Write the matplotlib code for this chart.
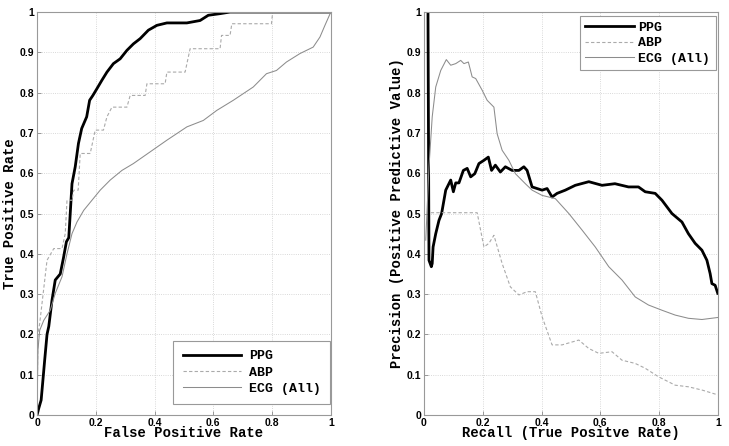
import numpy as np
import matplotlib
matplotlib.use("Agg")
import matplotlib.pyplot as plt

# ROC-Kurven (links)
roc_ppg_fpr = [0, 0.006, 0.014, 0.019, 0.026, 0.034, 0.04, 0.051, 0.062, 0.079, 0.09, 0.1, 0.108,
               0.113, 0.119, 0.13, 0.141, 0.152, 0.169, 0.179, 0.19, 0.204, 0.221, 0.238, 0.26,
               0.283, 0.306, 0.328, 0.351, 0.379, 0.408, 0.442, 0.51, 0.555, 0.583, 0.623, 0.657, 1.0]
roc_ppg_tpr = [0, 0.017, 0.037, 0.078, 0.136, 0.2, 0.22, 0.285, 0.335, 0.35, 0.39, 0.43, 0.44,
               0.5, 0.574, 0.616, 0.674, 0.711, 0.74, 0.781, 0.793, 0.81, 0.831, 0.851, 0.872,
               0.884, 0.905, 0.921, 0.934, 0.955, 0.967, 0.973, 0.973, 0.979, 0.992, 0.996, 1.0, 1.0]

roc_abp_fpr = [0, 0.003, 0.009, 0.034, 0.057, 0.085, 0.096, 0.102, 0.119, 0.125, 0.14, 0.147,
               0.181, 0.198, 0.226, 0.238, 0.255, 0.306, 0.317, 0.368, 0.374, 0.436, 0.442,
               0.504, 0.521, 0.623, 0.628, 0.657, 0.663, 0.798, 0.802, 1.0]
roc_abp_tpr = [0, 0.2, 0.227, 0.384, 0.413, 0.413, 0.45, 0.533, 0.533, 0.558, 0.558, 0.649,
               0.649, 0.707, 0.707, 0.74, 0.764, 0.764, 0.793, 0.793, 0.822, 0.822, 0.851,
               0.851, 0.909, 0.909, 0.942, 0.942, 0.971, 0.971, 1.0, 1.0]

roc_ecg_fpr = [0, 0.003, 0.009, 0.023, 0.045, 0.062, 0.085, 0.102, 0.119, 0.136, 0.159, 0.187,
               0.215, 0.249, 0.289, 0.328, 0.385, 0.442, 0.51, 0.566, 0.612, 0.668, 0.736,
               0.781, 0.815, 0.849, 0.895, 0.94, 0.963, 0.98, 1.0]
roc_ecg_tpr = [0, 0.16, 0.21, 0.235, 0.26, 0.302, 0.343, 0.4, 0.45, 0.479, 0.508, 0.533,
               0.558, 0.583, 0.607, 0.624, 0.653, 0.682, 0.715, 0.731, 0.756, 0.781, 0.814,
               0.847, 0.855, 0.876, 0.897, 0.913, 0.938, 0.967, 1.0]

# Precision-Recall (rechts)
pr_ppg_rec = [0.0136, 0.017, 0.025, 0.028, 0.031, 0.04, 0.051, 0.06, 0.074, 0.091, 0.1, 0.108,
              0.119, 0.134, 0.147, 0.159, 0.173, 0.187, 0.204, 0.219, 0.23, 0.243, 0.26, 0.277,
              0.3, 0.323, 0.34, 0.351, 0.368, 0.385, 0.402, 0.419, 0.436, 0.453, 0.481, 0.515,
              0.561, 0.606, 0.65, 0.696, 0.73, 0.753, 0.787, 0.81, 0.844, 0.878, 0.9, 0.923,
              0.946, 0.963, 0.974, 0.98, 0.991, 1.0]
pr_ppg_prec = [1.0, 0.384, 0.368, 0.376, 0.417, 0.45, 0.483, 0.5, 0.558, 0.583, 0.554, 0.576,
               0.576, 0.607, 0.612, 0.591, 0.599, 0.624, 0.632, 0.64, 0.607, 0.62, 0.603, 0.616,
               0.607, 0.607, 0.616, 0.607, 0.566, 0.562, 0.558, 0.562, 0.541, 0.55, 0.558, 0.57,
               0.579, 0.57, 0.574, 0.566, 0.566, 0.554, 0.55, 0.533, 0.5, 0.479, 0.45, 0.426,
               0.409, 0.384, 0.351, 0.326, 0.322, 0.302]

pr_abp_rec = [0.023, 0.181, 0.204, 0.221, 0.238, 0.266, 0.294, 0.323, 0.351, 0.379, 0.402,
              0.436, 0.47, 0.527, 0.561, 0.595, 0.64, 0.674, 0.719, 0.753, 0.798, 0.855, 0.9,
              0.946, 1.0]
pr_abp_prec = [0.502, 0.502, 0.417, 0.426, 0.446, 0.376, 0.318, 0.298, 0.306, 0.306, 0.244,
               0.174, 0.174, 0.186, 0.165, 0.153, 0.157, 0.136, 0.128, 0.116, 0.095, 0.074, 0.07,
               0.062, 0.05]

pr_ecg_rec = [0.006, 0.017, 0.028, 0.04, 0.057, 0.076, 0.091, 0.108, 0.125, 0.136, 0.151, 0.164,
              0.176, 0.198, 0.215, 0.238, 0.249, 0.266, 0.289, 0.311, 0.345, 0.368, 0.402,
              0.447, 0.493, 0.538, 0.583, 0.629, 0.674, 0.719, 0.764, 0.81, 0.855, 0.9, 0.946, 1.0]
pr_ecg_prec = [0.434, 0.616, 0.74, 0.814, 0.855, 0.882, 0.868, 0.872, 0.88, 0.872, 0.876, 0.839,
               0.835, 0.806, 0.781, 0.764, 0.698, 0.657, 0.632, 0.599, 0.574, 0.558, 0.545,
               0.537, 0.5, 0.459, 0.417, 0.368, 0.335, 0.293, 0.273, 0.26, 0.248, 0.24, 0.237, 0.242]

labels = ['PPG', 'ABP', 'ECG (All)']
ticks = [0, 0.1, 0.2, 0.3, 0.4, 0.5, 0.6, 0.7, 0.8, 0.9, 1]
xticks = [0, 0.2, 0.4, 0.6, 0.8, 1]

mono = {'family': 'Liberation Mono', 'weight': 'bold', 'size': 10}
legfont = {'family': 'Liberation Mono', 'weight': 'bold', 'size': 9.5}
tickfont = 'Liberation Sans'

fig = plt.figure(figsize=(7.29, 4.46), dpi=100)
ax1 = fig.add_axes([0.0508, 0.0695, 0.403, 0.9035])
ax2 = fig.add_axes([0.5816, 0.0695, 0.403, 0.9035])


def style(ax):
    ax.set_xlim(0, 1)
    ax.set_ylim(0, 1)
    ax.set_xticks(xticks)
    ax.set_xticklabels(['0', '0.2', '0.4', '0.6', '0.8', '1'])
    ax.set_yticks(ticks)
    ax.set_yticklabels(['0', '0.1', '0.2', '0.3', '0.4', '0.5', '0.6', '0.7', '0.8', '0.9', '1'])
    ax.tick_params(direction='in', length=3, width=0.6, color='#888888', pad=2)
    for lab in ax.get_xticklabels() + ax.get_yticklabels():
        lab.set_fontfamily(tickfont)
        lab.set_fontweight('bold')
        lab.set_fontsize(7.5)
    ax.grid(True, linestyle=':', color='#cccccc', linewidth=0.6)
    for sp in ax.spines.values():
        sp.set_color('#999999')
        sp.set_linewidth(0.8)


ax1.plot(roc_ppg_fpr, roc_ppg_tpr, color='black', lw=2.0, label=labels[0])
ax1.plot(roc_abp_fpr, roc_abp_tpr, color='#aaaaaa', lw=0.8, ls=(0, (3, 2)), label=labels[1])
ax1.plot(roc_ecg_fpr, roc_ecg_tpr, color='#8c8c8c', lw=0.75, label=labels[2])
style(ax1)
ax1.set_xlabel('False Positive Rate', fontdict=mono, labelpad=-1)
ax1.set_ylabel('True Positive Rate', fontdict=mono, labelpad=2)
leg1 = ax1.legend(loc='lower right', bbox_to_anchor=(0.997, 0.027), borderaxespad=0,
                  prop=legfont, handlelength=4.4, handletextpad=0.6, borderpad=0.7,
                  fancybox=False, framealpha=1, edgecolor='#999999', labelspacing=0.3)
leg1.get_frame().set_linewidth(0.8)

ax2.plot(pr_ppg_rec, pr_ppg_prec, color='black', lw=2.0, label=labels[0])
ax2.plot(pr_abp_rec, pr_abp_prec, color='#aaaaaa', lw=0.8, ls=(0, (3, 2)), label=labels[1])
ax2.plot(pr_ecg_rec, pr_ecg_prec, color='#8c8c8c', lw=0.75, label=labels[2])
style(ax2)
ax2.set_xlabel('Recall (True Positve Rate)', fontdict=mono, labelpad=-1)
ax2.set_ylabel('Precision (Positive Predictive Value)', fontdict=mono, labelpad=2)
leg2 = ax2.legend(loc='upper right', bbox_to_anchor=(0.993, 0.99), borderaxespad=0,
                  prop=legfont, handlelength=3.7, handletextpad=0.35, borderpad=0.4,
                  fancybox=False, framealpha=1, edgecolor='#999999', labelspacing=0.25)
leg2.get_frame().set_linewidth(0.8)

fig.savefig('out.png', dpi=100)
